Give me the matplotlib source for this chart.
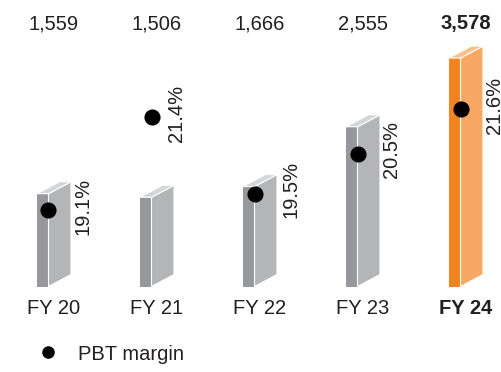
import matplotlib.pyplot as plt
import matplotlib.transforms as mtransforms
from matplotlib.patches import Polygon
from matplotlib.lines import Line2D

plt.rcParams['font.family'] = ['Liberation Sans', 'DejaVu Sans']
plt.rcParams['text.color'] = '#231f20'

years = ['FY 20', 'FY 21', 'FY 22', 'FY 23', 'FY 24']
pbt = [1559, 1506, 1666, 2555, 3578]
margin = [19.1, 21.4, 19.5, 20.5, 21.6]
label_nudge = [34, 25, 37, 34, 34]   # px right of dot for margin labels

W, H = 502, 372
fig = plt.figure(figsize=(W / 100, H / 100), dpi=100)

# bar baseline sits at 286.5 px from the top
base_px = 286.5
ax = fig.add_axes([0, (H - base_px) / H, 1, base_px / H])
step = 103.0            # px between categories
x_first = 54.0          # px centre of first bar
ax.set_xlim(-x_first / step, (W - x_first) / step)
ppu = 0.06721           # px per unit of PBT
v0 = 178.6
ax.set_ylim(v0, v0 + base_px / ppu)
ax.axis('off')

front_w = 11.5 / step
depth_x = 22.5 / step
depth_y = 12 / ppu

grey = ('#97989b', '#b3b5b7', '#d4d5d6')
orange = ('#f28321', '#f8a862', '#fbc08a')

xfig = mtransforms.blended_transform_factory(ax.transData, fig.transFigure)
fs = 14.5

for i, v in enumerate(pbt):
    last = i == len(pbt) - 1
    front, side, top = orange if last else grey
    xl = i - 17 / step
    xr = xl + front_w
    ax.bar(xl, v - v0, bottom=v0, width=front_w, align='edge', color=front,
           edgecolor='none', zorder=2)
    ax.add_patch(Polygon([(xr, v0), (xr + depth_x, v0 + depth_y),
                          (xr + depth_x, v + depth_y), (xr, v)],
                         closed=True, facecolor=side, edgecolor='white', lw=0.8, zorder=2))
    ax.add_patch(Polygon([(xl, v), (xr, v), (xr + depth_x, v + depth_y),
                          (xl + depth_x, v + depth_y)],
                         closed=True, facecolor=top, edgecolor='white', lw=0.8, zorder=2))
    weight = 'bold' if last else 'normal'
    ax.text(i, 1 - 24 / H, f'{v:,}', transform=xfig, ha='center', va='center',
            fontsize=fs, fontweight=weight)
    ax.text(i, 1 - 309 / H, years[i], transform=xfig, ha='center', va='center',
            fontsize=fs, fontweight=weight)

# PBT margin dots on a secondary scale
ax2 = ax.twinx()
ax2.set_ylim(17.21, 24.31)
ax2.axis('off')
dot_x = [i - 17 / step + front_w for i in range(len(years))]
ax2.scatter(dot_x, margin, s=112, color='black', zorder=5, clip_on=False)
for x, m, dx in zip(dot_x, margin, label_nudge):
    ax2.annotate(f'{m}%', (x, m), xytext=(dx * 0.72, 3), textcoords='offset points',
                 rotation=90, ha='center', va='center', fontsize=fs,
                 annotation_clip=False)

handle = Line2D([], [], marker='o', ls='none', color='black', ms=8)
fig.legend(handles=[handle], labels=['PBT margin'], loc='center left',
           bbox_to_anchor=(38 / W, 1 - 354 / H), frameon=False,
           borderpad=0, borderaxespad=0, handlelength=1, handletextpad=1.0,
           prop={'size': fs})

fig.savefig('out.png', dpi=100)
